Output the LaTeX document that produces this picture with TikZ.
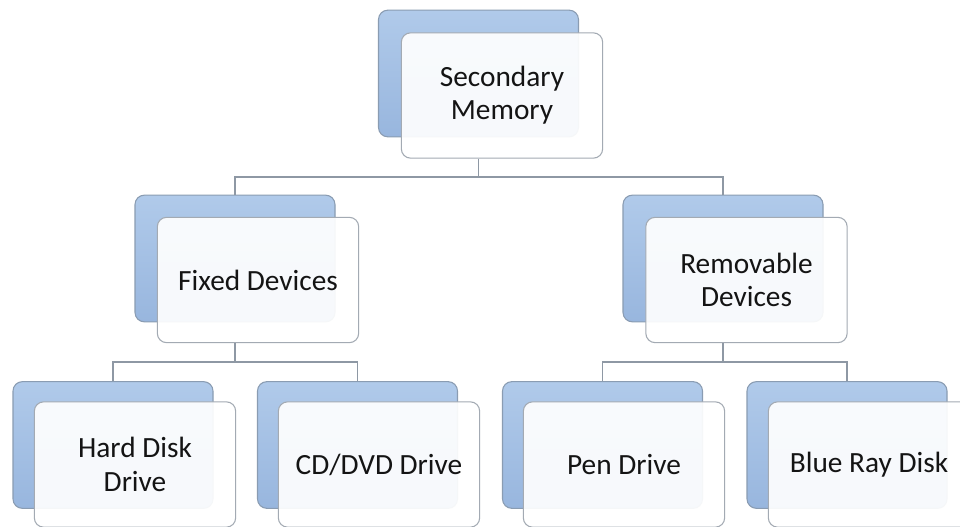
\documentclass[tikz,border=0pt]{standalone}
\usepackage{fontspec}
\setmainfont{Carlito}
\usepackage{tikz}
\usetikzlibrary{calc}

\definecolor{backtop}{HTML}{B0CAEA}
\definecolor{backbot}{HTML}{98B6DE}
\definecolor{backline}{HTML}{8A9CB2}
\definecolor{frontline}{HTML}{A3AAB3}
\definecolor{wireline}{HTML}{8E98A4}

\begin{document}
\begin{tikzpicture}[x=0.75pt,y=-0.75pt,
  backbox/.style={draw=backline,line width=0.8pt,rounded corners=7pt,top color=backtop,bottom color=backbot,
    minimum width=150pt,minimum height=95pt,inner sep=0pt},
  frontbox/.style={draw=frontline,line width=0.8pt,rounded corners=7pt,fill=white,fill opacity=0.92,text opacity=1,
    minimum width=151pt,minimum height=94pt,inner sep=0pt,align=center,font=\fontsize{22}{25}\selectfont,text=black!92},
  wire/.style={draw=wireline,line width=0.8pt}]
\useasboundingbox (0,0) rectangle (960,527);
\fill[white] (0,0) rectangle (960,527);

% Top level
\node[backbox] (secb) at (478.5,73.5) {};
\node[frontbox] (secf) at (502,95.5) {Secondary\\Memory};

% Second level
\node[backbox] (fixb) at (235,258.5) {};
\node[frontbox] (fixf) at (258,280) {Fixed Devices};
\node[backbox] (remb) at (723,258.5) {};
\node[frontbox] (remf) at (746.5,280) {Removable\\Devices};

% Third level
\node[backbox] (hddb) at (113,445) {};
\node[frontbox] (hddf) at (135,464.5) {Hard Disk\\Drive};
\node[backbox] (cdb) at (357.5,445) {};
\node[frontbox] (cdf) at (379,464.5) {CD/DVD Drive};
\node[backbox] (penb) at (602.5,445) {};
\node[frontbox] (penf) at (624,464.5) {Pen Drive};
\node[backbox] (blub) at (847,445) {};
\node[frontbox] (bluf) at (869,464.5) {Blue Ray Disk};

% Connectors
\coordinate (bus1) at (478.5,177);
\coordinate (bus2) at (235,362);
\coordinate (bus3) at (723,362);
\draw[wire] (secb.center |- secf.south) -- (bus1) -| (fixb.north);
\draw[wire] (bus1) -| (remb.north);
\draw[wire] (fixb.center |- fixf.south) -- (bus2) -| (hddb.north);
\draw[wire] (bus2) -| (cdb.north);
\draw[wire] (remb.center |- remf.south) -- (bus3) -| (penb.north);
\draw[wire] (bus3) -| (blub.north);
\end{tikzpicture}
\end{document}
